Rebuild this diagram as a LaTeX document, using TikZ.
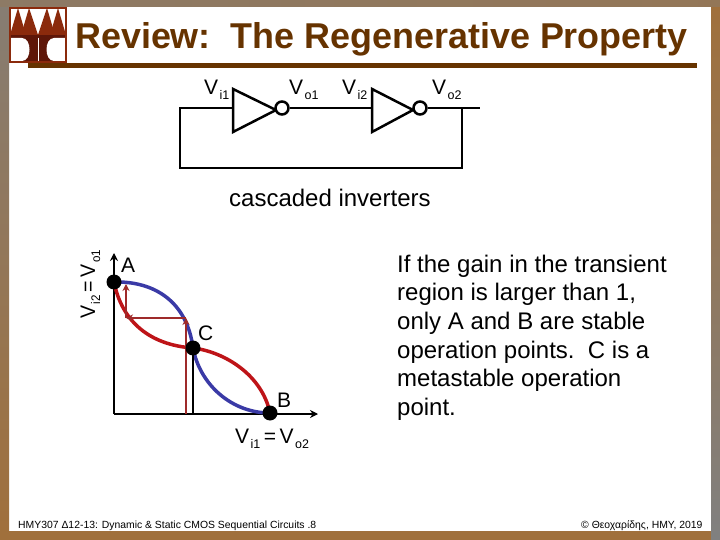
\documentclass[tikz,border=0pt]{standalone}
\usepackage{fontspec}
\setmainfont{Liberation Sans}
\usetikzlibrary{arrows.meta}
\definecolor{titlebrown}{HTML}{663300}
\definecolor{framebrown}{HTML}{A0703C}
\definecolor{framegray}{HTML}{808080}
\definecolor{logored}{HTML}{8B2A0C}
\definecolor{logodark}{HTML}{5E1608}
\definecolor{curvered}{HTML}{BE1418}
\definecolor{curveblue}{HTML}{3A3AA6}
\definecolor{steparrow}{HTML}{9E2A2A}
\newcommand{\vsub}[1]{V\kern1.5pt\raisebox{-5pt}{\fontsize{12.5}{12.5}\selectfont #1}}
\newcommand{\eqgap}{\kern3.5pt=\kern3.5pt}
\tikzset{
  wire/.style={line width=2.5pt},
  bubble/.style={circle,draw,line width=2.5pt,fill=white,minimum size=13pt,inner sep=0pt},
  dot/.style={circle,fill=black,minimum size=15pt,inner sep=0pt},
  lbl/.style={anchor=base west,inner sep=0pt,font=\fontsize{21}{21}\selectfont},
  body/.style={anchor=base west,inner sep=0pt,font=\fontsize{24}{28.7}\selectfont},
  foot/.style={anchor=base west,inner sep=0pt,font=\fontsize{10.4}{10.4}\selectfont},
  curve/.style={line width=3.5pt},
  stepline/.style={steparrow,line width=2pt,-{Stealth[length=7pt,width=7pt]}}
}
\begin{document}
\begin{tikzpicture}[>={Stealth[length=8pt,width=8pt]},x=1pt,y=-1pt]
    \useasboundingbox (0,0) rectangle (720,540);

    % Frame
    \fill[white] (0,0) rectangle (720,540);
    \shade[left color=framebrown,middle color=framegray,right color=framebrown] (0,531) rectangle (711,540);
    \shade[top color=framegray!80!framebrown,bottom color=framebrown] (0,7) rectangle (9,531);
    \shade[top color=framebrown,bottom color=framegray] (711,7) rectangle (720,540);
    \shade[left color=framegray!60!framebrown,right color=framegray!40!framebrown] (0,0) rectangle (720,7);

    % Logo
    \fill[logodark] (10,35) rectangle (66,62);
    \fill[logored] (10,35) -- (18,8) -- (26,35) -- cycle;
    \fill[logored] (21,35) -- (29,8) -- (38,35) -- cycle;
    \fill[logored] (38,35) -- (47,8) -- (55,35) -- cycle;
    \fill[logored] (50,35) -- (58,8) -- (66,35) -- cycle;
    \fill[white] (11,38) -- (22,38) .. controls (32,38) and (32,61) .. (22,61) -- (11,61) -- cycle;
    \fill[white] (65,38) -- (54,38) .. controls (44,38) and (44,61) .. (54,61) -- (65,61) -- cycle;
    \draw[white] (38,38) -- (38,62);
    \draw[logored,line width=1.5pt] (10,8) rectangle (66,62);

    % Title
    \node[anchor=base west,inner sep=0pt,text=titlebrown,font=\fontsize{35.9}{36}\selectfont\bfseries] (title) at (75,49) {Review:\ \ The Regenerative Property};
    \fill[titlebrown] (28,63) rectangle (697,68);

    % Inverters
    \coordinate (in1) at (233,108);
    \coordinate (in2) at (372,108);
    \coordinate (tap) at (462,108);
    \coordinate (out2) at (480,108);
    \coordinate (loop) at (180,168);
    \draw[wire,line join=miter] (233,89) -- (233,132) -- (276,110) -- cycle;
    \draw[wire,line join=miter] (372,89) -- (372,132) -- (413,110) -- cycle;
    \node[bubble] (bub1) at (282,108) {};
    \node[bubble] (bub2) at (420,108) {};
    \draw[wire] (bub1) -- (in2);
    \draw[wire] (bub2) -- (out2);
    \draw[wire] (in1) -| (loop) -| (tap);

    % Inverter labels
    \node[lbl] (vi1) at (204,95) {\vsub{i1}};
    \node[lbl] (vo1) at (289,95) {\vsub{o1}};
    \node[lbl] (vi2) at (342,95) {\vsub{i2}};
    \node[lbl] (vo2) at (432,95) {\vsub{o2}};
    \node[anchor=base west,inner sep=0pt,font=\fontsize{24}{24}\selectfont] (caption) at (229,206.5) {cascaded inverters};

    % Axes
    \coordinate (origin) at (114,414);
    \coordinate (ytop) at (114,253);
    \coordinate (xend) at (318,414);
    \draw[->,wire] (origin) -- (ytop);
    \draw[->,wire] (origin) -- (xend);
    \node[lbl,rotate=90] (ylabel) at (95,319) {\scalebox{0.93}[1]{\vsub{i2}\eqgap\vsub{o1}}};
    \node[lbl] (xlabel) at (235,443) {\vsub{i1}\eqgap\vsub{o2}};

    % Points
    \coordinate (A) at (114,282);
    \coordinate (C) at (193,348);
    \coordinate (B) at (270,413);
    \coordinate (Cfoot) at (193,414);

    % Transfer curves
    \draw[curveblue,curve] (A) .. controls (155,281) and (187,302) .. (C) .. controls (200,385) and (232,413) .. (B);
    \draw[curvered,curve] (A) .. controls (122,322) and (150,345) .. (C) .. controls (225,352) and (262,375) .. (B);
    \draw[wire] (C) -- (Cfoot);

    % Regeneration steps
    \coordinate (s0) at (186,414);
    \coordinate (s1) at (186,318);
    \coordinate (s2) at (126,318);
    \coordinate (s3) at (126,284);
    \draw[stepline] (s0) -- (s1);
    \draw[stepline] (s1) -- (s2);
    \draw[stepline] (s2) -- (s3);

    \node[dot] (dotA) at (A) {};
    \node[dot] (dotC) at (C) {};
    \node[dot] (dotB) at (B) {};
    \node[lbl] (labA) at (121,272) {A};
    \node[lbl] (labC) at (198,340) {C};
    \node[lbl] (labB) at (277,407) {B};

    % Side text
    \node[body,align=left] (side) at (397,415.5) {If the gain in the transient\\region is larger than 1,\\only A and B are stable\\operation points.\ \ C is a\\metastable operation\\point.};

    % Footer
    \node[foot] (footl) at (18,528) {HMY307 Δ12-13: Dynamic \& Static CMOS Sequential Circuits .8};
    \node[foot] (footr) at (581,528) {© Θεοχαρίδης, ΗΜΥ, 2019};
\end{tikzpicture}
\end{document}
